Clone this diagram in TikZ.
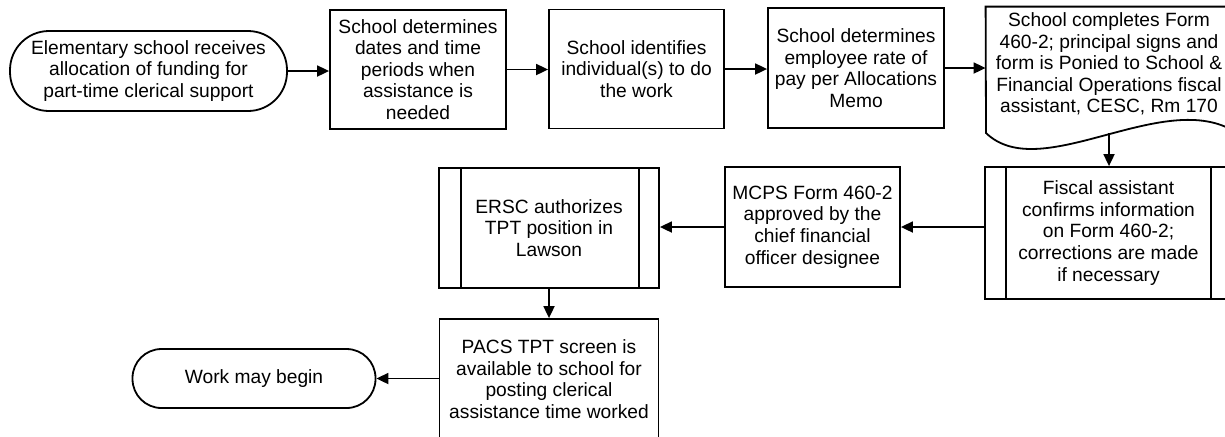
\documentclass[tikz,border=0pt]{standalone}
\usepackage{fontspec}
\setmainfont{Liberation Sans}
\usetikzlibrary{arrows.meta,calc}
\begin{document}
\begin{tikzpicture}[x=0.5pt,y=-0.5pt,
  every node/.style={font=\fontsize{9.6pt}{10.8pt}\selectfont, align=center, inner sep=0pt},
  procbox/.style={draw, line width=0.9pt, rectangle},
  termbox/.style={draw, line width=0.9pt, rectangle},
  edge/.style={line width=0.9pt},
  arr/.style={line width=0.9pt, -{Triangle[length=6pt,width=5.5pt]}}]
\useasboundingbox (0,0) rectangle (1225,436);
% top row
\node[termbox, rounded corners=19.5pt, minimum width=138.5pt, minimum height=40pt] (t1) at (148.5,71)
  {Elementary school receives\\allocation of funding for\\part-time clerical support};
\node[procbox, minimum width=88pt, minimum height=59.5pt] (b2) at (418,69.5)
  {School determines\\dates and time\\periods when\\assistance is\\needed};
\node[procbox, minimum width=87.5pt, minimum height=59.5pt] (b3) at (636.5,69)
  {School identifies\\individual(s) to do\\the work};
\node[procbox, minimum width=88pt, minimum height=60pt] (b4) at (856,68)
  {School determines\\employee rate of\\pay per Allocations\\Memo};
% document shape
\node[minimum width=123pt, minimum height=63pt] (doc) at (1109,70) {};
\draw[edge] (doc.north west) -- (doc.north east) -- (1232,130)
  .. controls (1160,90) and (1040,185) .. (986,133) -- cycle;
\node (doctext) at (1109,64)
  {School completes Form\\460-2; principal signs and\\form is Ponied to School \&\\Financial Operations fiscal\\assistant, CESC, Rm 170};
% middle row
\node[procbox, minimum width=123.5pt, minimum height=66pt] (fis) at (1108.5,233)
  {Fiscal assistant\\confirms information\\on Form 460-2;\\corrections are made\\if necessary};
\draw[edge] ($(fis.north west)+(22,0)$) -- ($(fis.south west)+(22,0)$);
\draw[edge] ($(fis.north east)+(-22,0)$) -- ($(fis.south east)+(-22,0)$);
\node[procbox, minimum width=87.5pt, minimum height=60pt] (mcps) at (812.5,227)
  {MCPS Form 460-2\\approved by the\\chief financial\\officer designee};
\node[procbox, minimum width=110pt, minimum height=60pt] (ersc) at (549,228)
  {ERSC authorizes\\TPT position in\\Lawson};
\draw[edge] ($(ersc.north west)+(23,0)$) -- ($(ersc.south west)+(23,0)$);
\draw[edge] ($(ersc.north east)+(-21,0)$) -- ($(ersc.south east)+(-21,0)$);
% bottom row
\node[procbox, minimum width=109.5pt, minimum height=60pt] (pacs) at (549,379)
  {PACS TPT screen is\\available to school for\\posting clerical\\assistance time worked};
\node[termbox, rounded corners=14.5pt, minimum width=121.5pt, minimum height=29.5pt] (work) at (254,378.5)
  {Work may begin};
% connectors
\draw[arr] (t1.east) -- (t1.east -| b2.west);
\draw[arr] (b2.east) -- (b2.east -| b3.west);
\draw[arr] (b3.east) -- (b3.east -| b4.west);
\draw[arr] (b4.east) -- (b4.east -| doc.west);
\draw[arr] (doc.south) -- (doc.south |- fis.north);
\draw[arr] (mcps.east -| fis.west) -- (mcps.east);
\draw[arr] (mcps.west) -- (mcps.west -| ersc.east);
\draw[arr] (ersc.south) -- (pacs.north);
\draw[arr] (work.east -| pacs.west) -- (work.east);
\end{tikzpicture}
\end{document}
